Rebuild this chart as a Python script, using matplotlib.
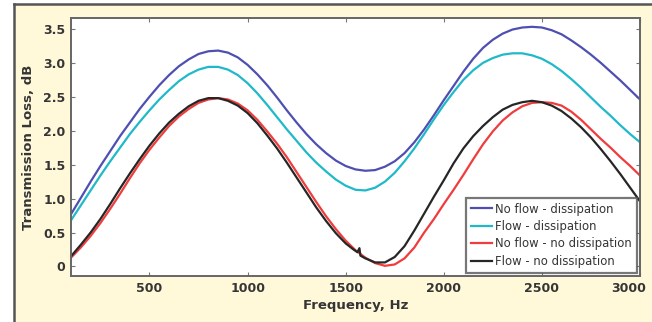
import matplotlib
matplotlib.use('Agg')
import numpy as np
import matplotlib.pyplot as plt
import matplotlib.transforms as mtransforms
from matplotlib.patches import Rectangle
from matplotlib.lines import Line2D

# frequency grid (Hz), 100 .. 3000 every 50
freq = list(range(100, 3001, 50))

# transmission loss (dB)
tl_noflow_diss = [0.77, 1.01, 1.25, 1.48, 1.70, 1.92, 2.12, 2.32, 2.50, 2.67,
                  2.82, 2.95, 3.05, 3.13, 3.17, 3.18, 3.15, 3.08, 2.97, 2.83,
                  2.67, 2.49, 2.30, 2.12, 1.95, 1.80, 1.67, 1.56, 1.48, 1.43,
                  1.41, 1.42, 1.47, 1.55, 1.67, 1.83, 2.02, 2.23, 2.45, 2.66,
                  2.87, 3.06, 3.22, 3.34, 3.43, 3.49, 3.52, 3.53, 3.52, 3.48,
                  3.42, 3.33, 3.23, 3.12, 3.00, 2.87, 2.74, 2.60, 2.46]
tl_flow_diss = [0.68, 0.90, 1.12, 1.34, 1.55, 1.75, 1.95, 2.13, 2.30, 2.46,
                2.60, 2.73, 2.83, 2.90, 2.94, 2.94, 2.90, 2.82, 2.70, 2.55,
                2.38, 2.20, 2.02, 1.85, 1.68, 1.53, 1.40, 1.28, 1.19, 1.13,
                1.12, 1.16, 1.25, 1.38, 1.55, 1.74, 1.95, 2.17, 2.38, 2.57,
                2.75, 2.89, 3.00, 3.07, 3.12, 3.14, 3.14, 3.11, 3.06, 2.98,
                2.88, 2.76, 2.63, 2.49, 2.35, 2.22, 2.08, 1.95, 1.83]
tl_noflow_nodiss = [0.13, 0.28, 0.45, 0.64, 0.85, 1.07, 1.30, 1.52, 1.72, 1.90,
                    2.07, 2.21, 2.32, 2.41, 2.46, 2.48, 2.46, 2.40, 2.30, 2.16,
                    1.99, 1.81, 1.61, 1.39, 1.17, 0.95, 0.74, 0.55, 0.38, 0.24,
                    0.13, 0.05, 0.01, 0.03, 0.12, 0.28, 0.50, 0.70, 0.92, 1.13,
                    1.35, 1.58, 1.80, 1.99, 2.15, 2.27, 2.36, 2.41, 2.42, 2.41,
                    2.37, 2.28, 2.16, 2.02, 1.88, 1.75, 1.61, 1.48, 1.34]

# flow / no dissipation has a small glitch near 1570 Hz, so own grid
freq_flow = [100, 150, 200, 250, 300, 350, 400, 450, 500, 550,
             600, 650, 700, 750, 800, 850, 900, 950, 1000, 1050,
             1100, 1150, 1200, 1250, 1300, 1350, 1400, 1450, 1500, 1540,
             1560, 1570, 1575, 1600, 1650, 1700, 1750, 1800, 1850, 1900,
             1950, 2000, 2050, 2100, 2150, 2200, 2250, 2300, 2350, 2400,
             2450, 2500, 2550, 2600, 2650, 2700, 2750, 2800, 2850, 2900,
             2950, 3000]
tl_flow_nodiss = [0.15, 0.32, 0.50, 0.70, 0.92, 1.15, 1.37, 1.58, 1.78, 1.96,
                  2.12, 2.25, 2.36, 2.44, 2.48, 2.48, 2.44, 2.37, 2.26, 2.11,
                  1.93, 1.74, 1.53, 1.31, 1.09, 0.87, 0.67, 0.49, 0.34, 0.25,
                  0.21, 0.27, 0.16, 0.12, 0.06, 0.06, 0.14, 0.30, 0.53, 0.78,
                  1.03, 1.27, 1.52, 1.74, 1.92, 2.07, 2.20, 2.31, 2.38, 2.42,
                  2.44, 2.42, 2.37, 2.29, 2.18, 2.05, 1.90, 1.73, 1.55, 1.36,
                  1.16, 0.96]

labels = ['No flow - dissipation', 'Flow - dissipation',
          'No flow - no dissipation', 'Flow - no dissipation']
colors = ['#4f4fb2', '#1fb9c9', '#f03c3c', '#262626']

cream = '#fff8d9'
txt = '#353535'
plt.rcParams['font.family'] = 'DejaVu Sans'

fig = plt.figure(figsize=(6.52, 3.22), dpi=100, facecolor='white')
# cream panel with dark frame on top/left
fig.patches.append(Rectangle((14/652, 0), 1, 1 - 4/322, transform=fig.transFigure,
                             facecolor=cream, edgecolor='none', zorder=-10))
fig.lines.append(Line2D([14/652, 1], [1 - 4/322, 1 - 4/322], transform=fig.transFigure,
                        color='#555555', lw=1.8, zorder=-5))
fig.lines.append(Line2D([14/652, 14/652], [0, 1 - 4/322], transform=fig.transFigure,
                        color='#555555', lw=1.8, zorder=-5))

ax = fig.add_axes([71/652, 1 - 276/322, (640 - 71)/652, (276 - 18)/322])
ax.set_facecolor('white')

ax.plot(freq, tl_noflow_diss, color=colors[0], lw=1.6, label=labels[0])
ax.plot(freq, tl_flow_diss, color=colors[1], lw=1.6, label=labels[1])
ax.plot(freq, tl_noflow_nodiss, color=colors[2], lw=1.6, label=labels[2])
ax.plot(freq_flow, tl_flow_nodiss, color=colors[3], lw=1.6, label=labels[3])

ax.set_xlim(100, 3000)
ax.set_ylim(-0.14, 3.66)
ax.set_xticks([500, 1000, 1500, 2000, 2500, 3000])
ax.set_yticks([0, 0.5, 1.0, 1.5, 2.0, 2.5, 3.0, 3.5])
ax.set_yticklabels(['0', '0.5', '1.0', '1.5', '2.0', '2.5', '3.0', '3.5'])
ax.tick_params(direction='in', length=3, width=0.8, color='#777777',
               top=True, right=True, labelsize=9, labelcolor=txt, pad=4)
for lab in ax.get_xticklabels() + ax.get_yticklabels():
    lab.set_fontweight('bold')
for s in ax.spines.values():
    s.set_color('#666666')
    s.set_linewidth(1.4)

# last x label sits flush with the right edge
last = ax.get_xticklabels()[-1]
last.set_horizontalalignment('right')
last.set_transform(last.get_transform() +
                   mtransforms.ScaledTranslation(6/100, 0, fig.dpi_scale_trans))

ax.set_xlabel('Frequency, Hz', fontsize=9.5, fontweight='bold', color=txt, labelpad=3)
ax.set_ylabel('Transmission Loss, dB', fontsize=9.5, fontweight='bold', color=txt,
              labelpad=6)

leg = ax.legend(loc='lower right', fontsize=8.4, frameon=True, fancybox=False,
                borderaxespad=0.3, handlelength=1.8, handletextpad=0.3,
                labelspacing=0.38, borderpad=0.4)
leg.get_frame().set_edgecolor('#555555')
leg.get_frame().set_linewidth(1.6)
for t in leg.get_texts():
    t.set_color(txt)

plt.savefig('out.png', dpi=100, facecolor=fig.get_facecolor())
plt.close()
